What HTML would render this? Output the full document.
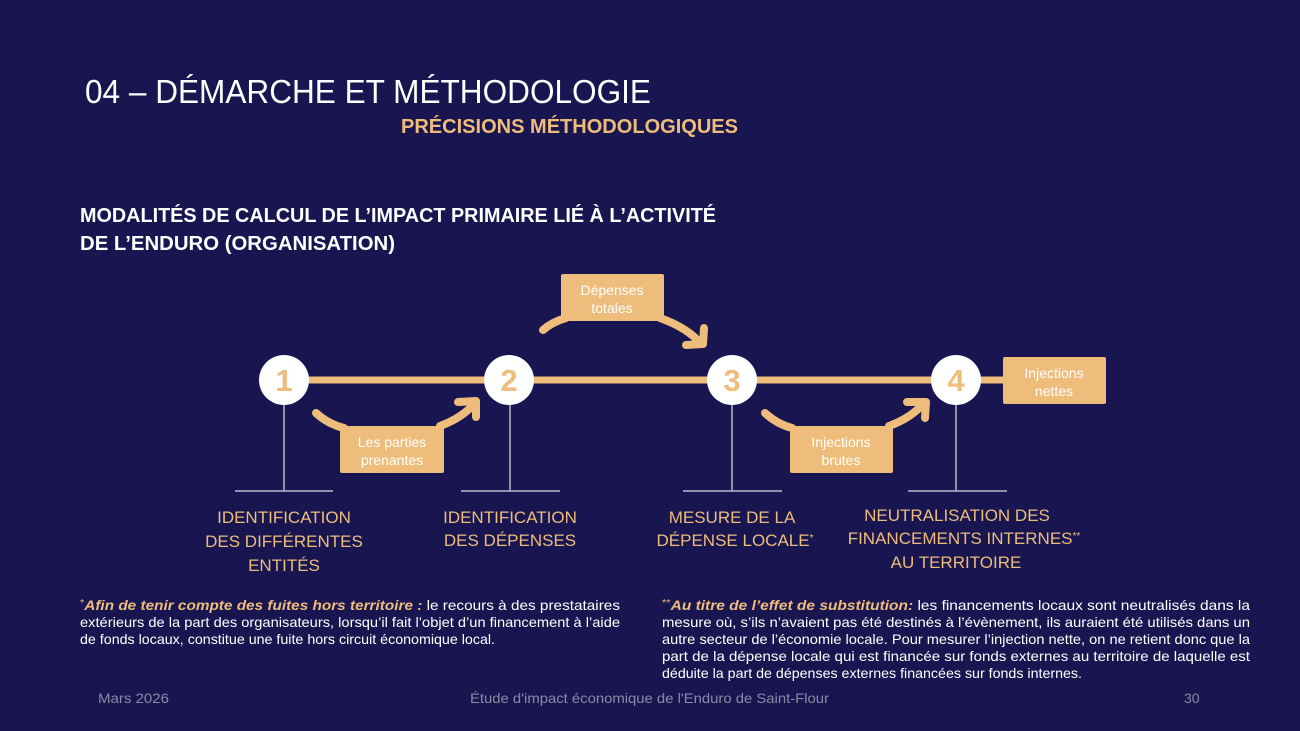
<!DOCTYPE html>
<html><head><meta charset="utf-8"><style>
html,body{margin:0;padding:0;background:#181550;}
svg{display:block}
text{font-family:"Liberation Sans",sans-serif;}
</style></head><body>
<svg width="1300" height="731" viewBox="0 0 1300 731" xmlns="http://www.w3.org/2000/svg">
<rect width="1300" height="731" fill="#181550"/>
<text x="85" y="103" font-size="33" fill="#fff" textLength="566" lengthAdjust="spacingAndGlyphs">04 – DÉMARCHE ET MÉTHODOLOGIE</text>
<text x="401" y="133" font-size="20" font-weight="bold" fill="#EEBD7B" textLength="337" lengthAdjust="spacingAndGlyphs">PRÉCISIONS MÉTHODOLOGIQUES</text>
<text x="80" y="222" font-size="20" font-weight="bold" fill="#fff" textLength="636" lengthAdjust="spacingAndGlyphs">MODALITÉS DE CALCUL DE L’IMPACT PRIMAIRE LIÉ À L’ACTIVITÉ</text>
<text x="80" y="250" font-size="20" font-weight="bold" fill="#fff" textLength="315" lengthAdjust="spacingAndGlyphs">DE L’ENDURO (ORGANISATION)</text>

<line x1="284" y1="380" x2="1005" y2="380" stroke="#EEBD7B" stroke-width="7"/>
<g stroke="#b8b8cc" stroke-width="1.5">
<line x1="284" y1="400" x2="284" y2="491"/><line x1="510" y1="400" x2="510" y2="491"/>
<line x1="732" y1="400" x2="732" y2="491"/><line x1="956" y1="400" x2="956" y2="491"/>
<line x1="235" y1="491" x2="333" y2="491"/><line x1="461" y1="491" x2="560" y2="491"/>
<line x1="683" y1="491" x2="782" y2="491"/><line x1="908" y1="491" x2="1007" y2="491"/>
</g>
<g fill="#fff">
<circle cx="284" cy="380" r="25"/><circle cx="509" cy="380" r="25"/>
<circle cx="732" cy="380" r="25"/><circle cx="956" cy="380" r="25"/>
</g>
<g font-size="31" fill="#EEBD7B" text-anchor="middle" font-weight="bold">
<text x="284" y="391">1</text><text x="509" y="391">2</text><text x="732" y="391">3</text><text x="956" y="391">4</text>
</g>

<g stroke="#EEBD7B" stroke-width="8" fill="none" stroke-linecap="round" stroke-linejoin="round">
<path d="M543 330 Q552 322 566 318"/>
<path d="M660 318 Q688 328 701 344"/>
<path d="M686 345 L703 344 L704 328"/>
<path d="M316 413 Q328 424 344 428"/>
<path d="M440 426 Q462 418 475 403"/>
<path d="M458 402 L476 401 L476 417"/>
<path d="M765 413 Q777 424 792 428"/>
<path d="M889 426 Q911 418 924 403"/>
<path d="M907 402 L926 402 L925 418"/>
</g>
<g fill="#EEBD7B">
<rect x="561" y="274" width="103" height="47" rx="2"/>
<rect x="340" y="426" width="104" height="47" rx="2"/>
<rect x="790" y="426" width="103" height="47" rx="2"/>
<rect x="1003" y="357" width="103" height="47" rx="2"/>
</g>
<g font-size="14" fill="#fff" text-anchor="middle">
<text x="612" y="295">Dépenses</text><text x="612" y="313">totales</text>
<text x="392" y="447">Les parties</text><text x="392" y="465">prenantes</text>
<text x="841" y="447">Injections</text><text x="841" y="465">brutes</text>
<text x="1054" y="378">Injections</text><text x="1054" y="396">nettes</text>
</g>

<g font-size="17" fill="#EEBD7B" text-anchor="middle">
<text x="284" y="523">IDENTIFICATION</text>
<text x="284" y="547">DES DIFFÉRENTES</text>
<text x="284" y="571">ENTITÉS</text>
<text x="510" y="523">IDENTIFICATION</text>
<text x="510" y="546">DES DÉPENSES</text>
<text x="732" y="523">MESURE DE LA</text>
<text x="735" y="546">DÉPENSE LOCALE<tspan font-size="10" dy="-5">*</tspan></text>
<text x="957" y="521">NEUTRALISATION DES</text>
<text x="964" y="544">FINANCEMENTS INTERNES<tspan font-size="10" dy="-5">**</tspan></text>
<text x="956" y="568">AU TERRITOIRE</text>
</g>

<g font-size="14" fill="#fff">
<text x="80" y="610" textLength="540" lengthAdjust="spacingAndGlyphs"><tspan fill="#EEBD7B" font-size="10" dy="-4">*</tspan><tspan fill="#EEBD7B" font-weight="bold" font-style="italic" dy="4">Afin de tenir compte des fuites hors territoire :</tspan> le recours à des prestataires</text>
<text x="80" y="627" textLength="540" lengthAdjust="spacingAndGlyphs">extérieurs de la part des organisateurs, lorsqu’il fait l’objet d’un financement à l’aide</text>
<text x="80" y="644" textLength="415" lengthAdjust="spacingAndGlyphs">de fonds locaux, constitue une fuite hors circuit économique local.</text>
<text x="662" y="610" textLength="588" lengthAdjust="spacingAndGlyphs"><tspan fill="#EEBD7B" font-size="10" dy="-4">**</tspan><tspan fill="#EEBD7B" font-weight="bold" font-style="italic" dy="4">Au titre de l’effet de substitution:</tspan> les financements locaux sont neutralisés dans la</text>
<text x="662" y="627" textLength="588" lengthAdjust="spacingAndGlyphs">mesure où, s’ils n’avaient pas été destinés à l’évènement, ils auraient été utilisés dans un</text>
<text x="662" y="644" textLength="588" lengthAdjust="spacingAndGlyphs">autre secteur de l’économie locale. Pour mesurer l’injection nette, on ne retient donc que la</text>
<text x="662" y="661" textLength="588" lengthAdjust="spacingAndGlyphs">part de la dépense locale qui est financée sur fonds externes au territoire de laquelle est</text>
<text x="662" y="678" textLength="420" lengthAdjust="spacingAndGlyphs">déduite la part de dépenses externes financées sur fonds internes.</text>
</g>

<g font-size="14" fill="#8a8aa6">
<text x="98" y="703" textLength="71" lengthAdjust="spacingAndGlyphs">Mars 2026</text>
<text x="470" y="703" textLength="359" lengthAdjust="spacingAndGlyphs">Étude d'impact économique de l'Enduro de Saint-Flour</text>
<text x="1184" y="703">30</text>
</g>
</svg>
</body></html>
